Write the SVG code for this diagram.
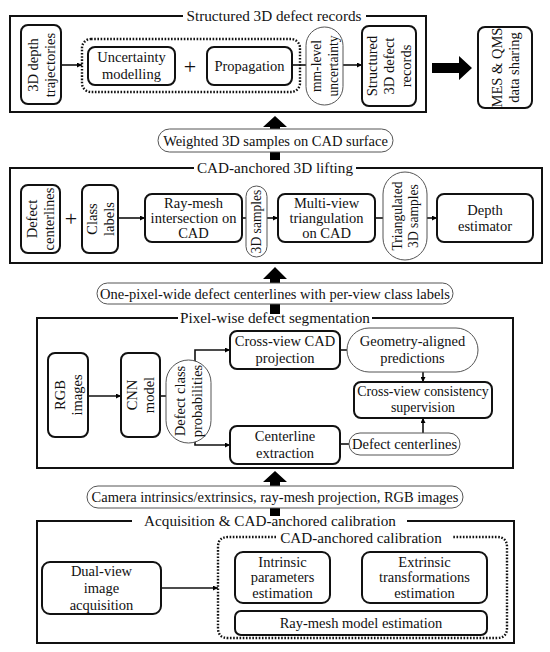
<svg xmlns="http://www.w3.org/2000/svg" width="550" height="652" viewBox="0 0 550 652">
<defs>
<marker id="ah" viewBox="0 0 10 10" refX="10" refY="5" markerWidth="5" markerHeight="5" orient="auto" markerUnits="userSpaceOnUse"><path d="M0,0 L10,5 L0,10 z" fill="#000"/></marker>
<style>
text{font-family:"Liberation Serif","Times New Roman",serif;font-size:14.5px;fill:#111;text-anchor:middle}
.t{font-size:15.2px}
.s{font-size:13.6px}
.plus{font-size:22px}
.frame{fill:none;stroke:#111;stroke-width:2}
.box{fill:#fff;stroke:#111;stroke-width:2}
.pill{fill:#fff;stroke:#555;stroke-width:1}
.dot{fill:none;stroke:#111;stroke-width:2.4;stroke-dasharray:1.6 1.6}
.c{fill:none;stroke:#111;stroke-width:1.6}
.big{fill:#000}
</style>
</defs>
<rect width="550" height="652" fill="#fff"/>

<g id="frames">
<path class="frame" d="M183,16 H10 V112 H426 V16 H366"/>
<text class="t" x="274" y="21">Structured 3D defect records</text>
<path class="frame" d="M194,168 H10 V263 H542 V168 H356"/>
<text class="t" x="275" y="173">CAD-anchored 3D lifting</text>
<path class="frame" d="M178,318 H37 V468 H513 V318 H372"/>
<text class="t" x="275" y="323">Pixel-wise defect segmentation</text>
<path class="frame" d="M132,521 H37 V643 H514 V521 H407"/>
<text class="t" x="270" y="526">Acquisition &amp; CAD-anchored calibration</text>
</g>

<g id="connectors">
<path class="big" d="M270,160 V127 H263 L275,116 L287,127 H280 V160 z"/>
<path class="big" d="M270,314 V279 H263 L275,267 L287,279 H280 V314 z"/>
<path class="big" d="M270,516 V482 H263 L275,471 L287,482 H280 V516 z"/>
<path class="big" d="M432,63 H459 V56 L472,68 L459,80 V73 H432 z"/>
<line class="c" x1="61" y1="65" x2="82" y2="65" marker-end="url(#ah)"/>
<line class="c" x1="292" y1="65" x2="306" y2="65"/>
<line class="c" x1="343" y1="65" x2="362" y2="65" marker-end="url(#ah)"/>
<line class="c" x1="118" y1="218" x2="145" y2="218" marker-end="url(#ah)"/>
<line class="c" x1="242" y1="218" x2="246" y2="218"/>
<line class="c" x1="267" y1="218" x2="278" y2="218" marker-end="url(#ah)"/>
<line class="c" x1="375" y1="218" x2="383" y2="218"/>
<line class="c" x1="427" y1="218" x2="437" y2="218" marker-end="url(#ah)"/>
<line class="c" x1="88" y1="396" x2="121" y2="396" marker-end="url(#ah)"/>
<line class="c" x1="160" y1="396" x2="166" y2="396"/>
<path class="c" d="M195,362 V350 H230" marker-end="url(#ah)"/>
<path class="c" d="M195,440 V445 H230" marker-end="url(#ah)"/>
<line class="c" x1="340" y1="350" x2="347" y2="350"/>
<line class="c" x1="423" y1="372" x2="423" y2="382" marker-end="url(#ah)"/>
<line class="c" x1="423" y1="433" x2="423" y2="418" marker-end="url(#ah)"/>
<line class="c" x1="340" y1="444" x2="349" y2="444"/>
<line class="c" x1="161" y1="588" x2="218" y2="588" marker-end="url(#ah)"/>
</g>

<g id="label-weighted">
<rect class="pill" x="158" y="129" width="235" height="23" rx="11.5"/>
<text x="275.5" y="145.5">Weighted 3D samples on CAD surface</text>
</g>
<g id="label-centerlines">
<rect class="pill" x="97" y="283" width="356" height="21" rx="10.5"/>
<text x="275" y="298.5">One-pixel-wide defect centerlines with per-view class labels</text>
</g>
<g id="label-camera">
<rect class="pill" x="87" y="486" width="376" height="22" rx="11"/>
<text x="275" y="502">Camera intrinsics/extrinsics, ray-mesh projection, RGB images</text>
</g>

<g id="depth-trajectories">
<rect class="box" x="21" y="25" width="40" height="79" rx="7"/>
<text transform="rotate(-90 41 65)" x="41" y="61.5">3D depth</text>
<text transform="rotate(-90 41 65)" x="41" y="78.5">trajectories</text>
</g>
<g id="uncertainty-group">
<rect class="dot" x="82" y="39" width="218" height="53" rx="9"/>
</g>
<g id="uncertainty-modelling">
<rect class="box" x="88" y="47" width="87" height="38" rx="7"/>
<text x="131.5" y="62">Uncertainty</text>
<text x="131.5" y="79">modelling</text>
</g>
<text class="plus" x="190" y="73.5">+</text>
<g id="propagation">
<rect class="box" x="207" y="47" width="85" height="38" rx="7"/>
<text x="249.5" y="70.5">Propagation</text>
</g>
<g id="mm-uncertainty">
<rect class="pill" x="306" y="27" width="37" height="78" rx="18.5"/>
<text class="s" transform="rotate(-90 324.5 66)" x="324.5" y="62.5">mm-level</text>
<text class="s" transform="rotate(-90 324.5 66)" x="324.5" y="79">uncertainty</text>
</g>
<g id="structured-records">
<rect class="box" x="362" y="26" width="54" height="80" rx="7"/>
<text transform="rotate(-90 389 66)" x="389" y="54">Structured</text>
<text transform="rotate(-90 389 66)" x="389" y="71">3D defect</text>
<text transform="rotate(-90 389 66)" x="389" y="88">records</text>
</g>
<g id="mes-qms">
<rect class="box" x="478" y="27" width="54" height="81" rx="7"/>
<text transform="rotate(-90 505 67.5)" x="505" y="64">MES &amp; QMS</text>
<text transform="rotate(-90 505 67.5)" x="505" y="81">data sharing</text>
</g>

<g id="defect-centerlines">
<rect class="box" x="21" y="185" width="39" height="68" rx="7"/>
<text transform="rotate(-90 40.5 219)" x="40.5" y="215.5">Defect</text>
<text transform="rotate(-90 40.5 219)" x="40.5" y="232.5">centerlines</text>
</g>
<text class="plus" x="71" y="225.5">+</text>
<g id="class-labels">
<rect class="box" x="82" y="185" width="36" height="68" rx="7"/>
<text transform="rotate(-90 100 219)" x="100" y="215.5">Class</text>
<text transform="rotate(-90 100 219)" x="100" y="232.5">labels</text>
</g>
<g id="ray-mesh-intersection">
<rect class="box" x="145" y="194" width="97" height="48" rx="7"/>
<text x="193.5" y="208">Ray-mesh</text>
<text x="193.5" y="223">intersection on</text>
<text x="193.5" y="238">CAD</text>
</g>
<g id="samples-3d">
<rect class="pill" x="246" y="186" width="21" height="71" rx="10.5"/>
<text class="s" transform="rotate(-90 256.5 221.5)" x="256.5" y="226.3">3D samples</text>
</g>
<g id="multi-view">
<rect class="box" x="278" y="194" width="97" height="48" rx="7"/>
<text x="326.5" y="208">Multi-view</text>
<text x="326.5" y="223">triangulation</text>
<text x="326.5" y="238">on CAD</text>
</g>
<g id="triangulated-samples">
<rect class="pill" x="383" y="172" width="44" height="88" rx="22"/>
<text class="s" transform="rotate(-90 405 216)" x="405" y="212.5">Triangulated</text>
<text class="s" transform="rotate(-90 405 216)" x="405" y="229">3D samples</text>
</g>
<g id="depth-estimator">
<rect class="box" x="437" y="194" width="96" height="48" rx="7"/>
<text x="485" y="215">Depth</text>
<text x="485" y="231">estimator</text>
</g>

<g id="rgb-images">
<rect class="box" x="48" y="353" width="40" height="84" rx="7"/>
<text transform="rotate(-90 68 395)" x="68" y="391.5">RGB</text>
<text transform="rotate(-90 68 395)" x="68" y="408.5">images</text>
</g>
<g id="cnn-model">
<rect class="box" x="121" y="353" width="39" height="84" rx="7"/>
<text transform="rotate(-90 140.5 395)" x="140.5" y="391.5">CNN</text>
<text transform="rotate(-90 140.5 395)" x="140.5" y="408.5">model</text>
</g>
<g id="class-probabilities">
<rect class="pill" x="166" y="360" width="45" height="83" rx="22.5"/>
<text transform="rotate(-90 188.5 401)" x="188.5" y="397.5">Defect class</text>
<text transform="rotate(-90 188.5 401)" x="188.5" y="414.5">probabilities</text>
</g>
<g id="cad-projection">
<rect class="box" x="230" y="331" width="110" height="38" rx="7"/>
<text x="285" y="346">Cross-view CAD</text>
<text x="285" y="363">projection</text>
</g>
<g id="geometry-predictions">
<rect class="pill" x="347" y="328" width="131" height="44" rx="22"/>
<text x="412.5" y="346">Geometry-aligned</text>
<text x="412.5" y="363">predictions</text>
</g>
<g id="consistency-supervision">
<rect class="box" x="354" y="382" width="138" height="36" rx="7"/>
<text style="font-size:13.9px" x="423" y="396">Cross-view consistency</text>
<text style="font-size:13.9px" x="423" y="412">supervision</text>
</g>
<g id="defect-centerlines-out">
<rect class="pill" x="349" y="433" width="111" height="22" rx="11"/>
<text x="404.5" y="449">Defect centerlines</text>
</g>
<g id="centerline-extraction">
<rect class="box" x="230" y="426" width="110" height="38" rx="7"/>
<text x="285" y="441">Centerline</text>
<text x="285" y="458">extraction</text>
</g>

<g id="dual-view">
<rect class="box" x="42" y="562" width="119" height="52" rx="8"/>
<text x="101.5" y="576">Dual-view</text>
<text x="101.5" y="593">image</text>
<text x="101.5" y="610">acquisition</text>
</g>
<g id="calibration-group">
<path class="dot" d="M276,537 H228 Q218,537 218,547 V628 Q218,638 228,638 H497 Q507,638 507,628 V547 Q507,537 497,537 H453"/>
<text class="t" x="361" y="543">CAD-anchored calibration</text>
</g>
<g id="intrinsic">
<rect class="box" x="235" y="552" width="95" height="51" rx="8"/>
<text x="282.5" y="566.5">Intrinsic</text>
<text x="282.5" y="582">parameters</text>
<text x="282.5" y="597.5">estimation</text>
</g>
<g id="extrinsic">
<rect class="box" x="362" y="552" width="125" height="51" rx="8"/>
<text x="424.5" y="566.5">Extrinsic</text>
<text x="424.5" y="582">transformations</text>
<text x="424.5" y="597.5">estimation</text>
</g>
<g id="ray-mesh-model">
<rect class="box" x="235" y="611" width="252" height="24" rx="6"/>
<text x="361" y="628">Ray-mesh model estimation</text>
</g>
</svg>
